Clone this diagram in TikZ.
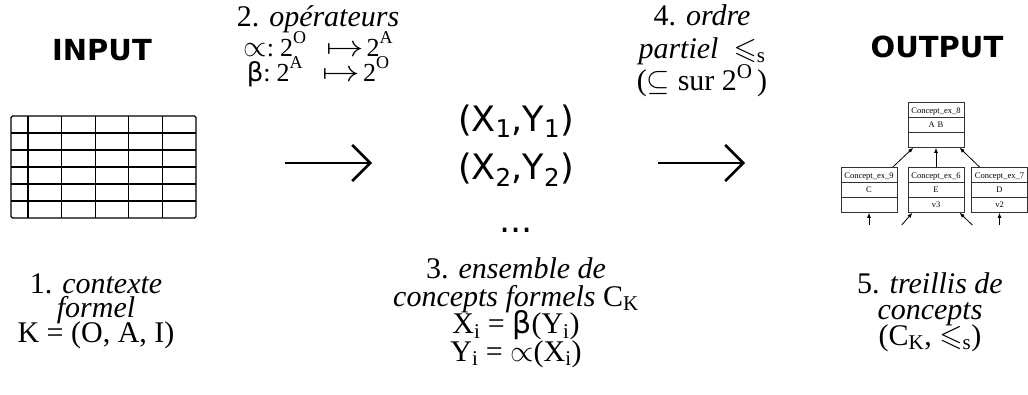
\RequirePackage{fix-cm}
\documentclass[tikz,border=0pt]{standalone}
\usepackage{amsmath, amssymb}
% AMS symbols in any size
\DeclareFontFamily{U}{msa}{}
\DeclareFontShape{U}{msa}{m}{n}{<-> msam10}{}
\usepackage{graphicx}
\usepackage{fontspec}
\setmainfont{Liberation Serif}
\newfontfamily\dvsans{DejaVu Sans}
\usepackage{tikz}
\usetikzlibrary{
  arrows.meta,%
  % boxes of the lattice
  shapes.multipart,%
  positioning
}
\tikzset{>=Latex}
\tikzset{heading/.style={font=\dvsans\bfseries\fontsize{29}{29}\selectfont, inner sep=0pt}}
\tikzset{legend/.style={align=center, inner sep=0pt}}
\newcommand{\legendfont}[2]{\fontsize{#1}{#2}\selectfont\lineskiplimit=-100pt\relax}
\newcommand{\sups}[1]{\raisebox{0.42em}{\fontsize{21}{21}\selectfont #1}}
\newcommand{\opsup}[1]{\raisebox{0.5em}{\fontsize{18}{18}\selectfont #1}}
\newcommand{\opsym}[1]{{\fontsize{30}{30}\selectfont$#1$}}
\newcommand{\wmapsto}{\scalebox{1.25}[1]{\opsym{\mapsto}}}
\tikzset{bigarrow/.style={line width=2.6pt, -{Straight Barb[length=18pt,width=36pt]}}}
\newcommand{\cpart}[1]{\rule[-4pt]{0pt}{14pt}#1}
\tikzset{concept/.style={rectangle split, rectangle split parts=3,
    draw=black!80, line width=0.9pt, inner xsep=2pt, inner ysep=0pt,
    text width=52pt, align=center, font=\fontsize{8.5}{9}\selectfont}}
\tikzset{latarrow/.style={->, line width=0.8pt, >={Latex[length=5pt,width=4pt]}}}

\begin{document}
\begin{tikzpicture}[x=1pt, y=1pt]
  \useasboundingbox (0,0) rectangle (1028,394);
  % titles
  \node[heading] (input) at (102,344) {INPUT};
  \node[heading] (output) at (937,347) {OUTPUT};
  % the formal context as a table
  \draw[line width=1.2pt, rounded corners=1.5pt] (11,176) rectangle (196,278);
  \foreach \k in {1,...,5}
    \draw[line width=1.2pt] (11,176+17*\k) -- (196,176+17*\k);
  \foreach \k in {0,...,4}
    \draw[line width=1.2pt] (28+33.6*\k,176) -- (28+33.6*\k,278);
  % operators and order (anchor base = last line)
  \node[legend, anchor=base, font=\legendfont{30}{25.5}] (ops) at (318,312)
    {2. \textit{opérateurs}\\[4pt]
     {\fontsize{26}{26}\selectfont\opsym{\propto}:\hspace{6pt}2\opsup{O}\hspace{20pt}\wmapsto\hspace{3pt}2\opsup{A}}\\
     {\fontsize{26}{26}\selectfont{\dvsans β}:\hspace{6pt}2\opsup{A}\hspace{20pt}\wmapsto\hspace{3pt}2\opsup{O}}};
  \node[legend, anchor=base, font=\legendfont{30}{32.5}] (order) at (702,303)
    {4. \textit{ordre}\\
     \textit{partiel} \ $\leqslant_{\mathrm{s}}$\\
     ($\subseteq$ sur 2\sups{O}\,)};
  % big arrows
  \coordinate (a1) at (285,231);
  \coordinate (b1) at (372,231);
  \coordinate (a2) at (658,231);
  \coordinate (b2) at (745,231);
  \draw[bigarrow] (a1) -- (b1);
  \draw[bigarrow] (a2) -- (b2);
  % concepts
  \node[legend, anchor=base, font=\dvsans\legendfont{35}{48}] (pairs) at (516,161)
    {(X\textsubscript{1},Y\textsubscript{1})\\
     (X\textsubscript{2},Y\textsubscript{2})\\[5pt]
     ...};
  % legends below
  \node[legend, anchor=base, font=\legendfont{30}{24.5}] (ctx) at (96,52)
    {1. \textit{contexte}\\
     \textit{formel}\\
     K = (O, A, I)};
  \node[legend, anchor=base, font=\legendfont{30}{27.5}] (cpts) at (516,33)
    {3. \textit{ensemble de}\\
     \textit{concepts formels} C$_{\mathrm{K}}$\\
     X$_{\mathrm{i}}$ = {\dvsans β}(Y$_{\mathrm{i}}$)\\
     Y$_{\mathrm{i}}$ = $\propto$(X$_{\mathrm{i}}$)};
  \node[legend, anchor=base, font=\legendfont{30}{26}] (lat) at (930,49)
    {5. \textit{treillis de}\\
     \textit{concepts}\\
     (C$_{\mathrm{K}}$, $\leqslant_{\mathrm{s}}$)};
  % lattice excerpt
  \node[concept] (c8) at (936,269)
    {\cpart{Concept\_ex\_8}\nodepart{two}\cpart{A B}\nodepart{three}\cpart{}};
  \node[concept] (c9) at (869,204)
    {\cpart{Concept\_ex\_9}\nodepart{two}\cpart{C}\nodepart{three}\cpart{}};
  \node[concept] (c6) at (936,204)
    {\cpart{Concept\_ex\_6}\nodepart{two}\cpart{E}\nodepart{three}\cpart{v3}};
  \node[concept] (c7) at (999.5,204)
    {\cpart{Concept\_ex\_7}\nodepart{two}\cpart{D}\nodepart{three}\cpart{v2}};
  \draw[latarrow] (c9.44) -- (c8.225);
  \draw[latarrow] (c6.north) -- (c8.south);
  \draw[latarrow] (c7.131) -- (c8.316);
  \coordinate (e9) at (869,169);
  \coordinate (e6l) at (901.7,169);
  \coordinate (e6r) at (972.3,169);
  \coordinate (e7) at (999.5,169);
  \draw[latarrow] (e9) -- (c9.south);
  \draw[latarrow] (e6l) -- (c6.224);
  \draw[latarrow] (e6r) -- (c6.316);
  \draw[latarrow] (e7) -- (c7.south);
\end{tikzpicture}
\end{document}
